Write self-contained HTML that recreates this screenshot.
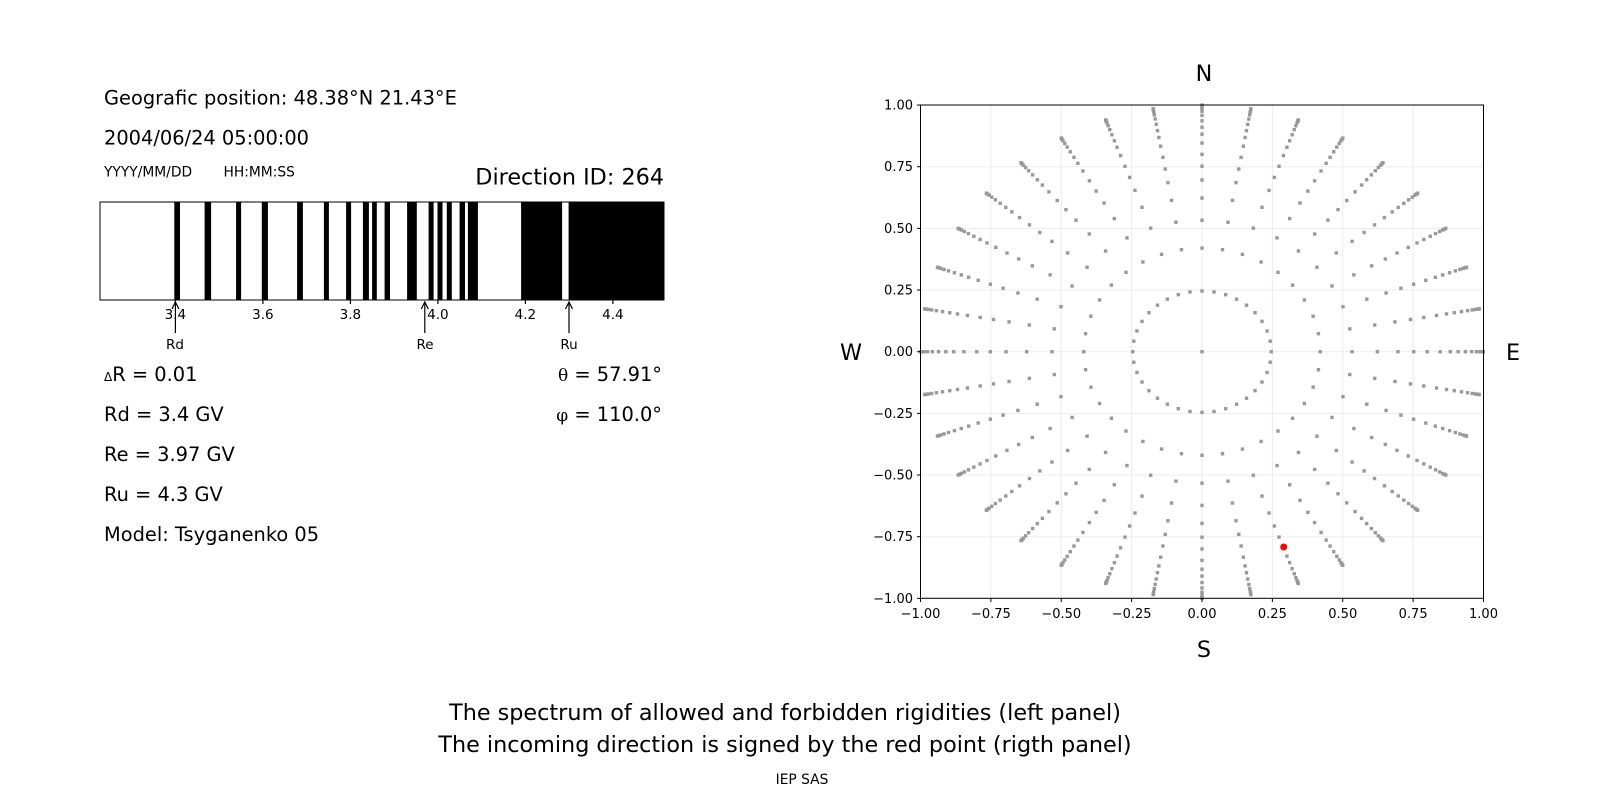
<!DOCTYPE html>
<html><head><meta charset="utf-8"><style>
html,body{margin:0;padding:0;background:#fff;}
svg text{font-family:"DejaVu Sans","Liberation Sans",sans-serif;fill:#000;}
</style></head><body>
<svg id="s" width="1600" height="800" viewBox="0 0 1600 800" xmlns="http://www.w3.org/2000/svg">
<rect width="1600" height="800" fill="#fff"/>
<g font-size="19.4">
<text x="104" y="104.5">Geografic position: 48.38°N 21.43°E</text>
<text x="104" y="144.5">2004/06/24 05:00:00</text>
<text x="104" y="381"><tspan font-size="12">Δ</tspan>R = 0.01</text>
<text x="104" y="421">Rd = 3.4 GV</text>
<text x="104" y="461">Re = 3.97 GV</text>
<text x="104" y="501">Ru = 4.3 GV</text>
<text x="104" y="541">Model: Tsyganenko 05</text>
<text x="662" y="381" text-anchor="end"><tspan font-family="DejaVu Serif,serif" font-size="17">θ</tspan> = 57.91°</text>
<text x="662" y="421" text-anchor="end"><tspan font-family="DejaVu Serif,serif" font-size="17">φ</tspan> = 110.0°</text>
</g>
<text x="104" y="176.5" font-size="13.8">YYYY/MM/DD</text>
<text x="223.5" y="176.5" font-size="13.8">HH:MM:SS</text>
<text x="664" y="184.5" font-size="22.3" text-anchor="end">Direction ID: 264</text>
<g id="bar"></g>
<rect x="100" y="202" width="564" height="98" fill="none" stroke="#000" stroke-width="1"/>
<g font-size="13.5" text-anchor="middle" id="bt"></g>
<g id="arr" stroke="#000" stroke-width="1.2" fill="none"></g>
<g font-size="13.5" text-anchor="middle">
<text x="175" y="349">Rd</text><text x="425" y="349">Re</text><text x="569" y="349">Ru</text>
</g>
<g id="grid" stroke="#ebebeb" stroke-width="1"></g>
<g id="dots" fill="#999"></g>
<rect x="1280.2" y="543.5" width="7" height="7" rx="3.5" fill="#f00"/>
<rect x="920.5" y="105" width="563" height="493.3" fill="none" stroke="#000" stroke-width="1"/>
<g id="ticks" font-size="13"></g>
<g font-size="22.3" text-anchor="middle">
<text x="1204" y="81">N</text><text x="1204" y="657">S</text>
<text x="851" y="360">W</text><text x="1513" y="360">E</text>
<text x="785" y="720">The spectrum of allowed and forbidden rigidities (left panel)</text>
<text x="785" y="752">The incoming direction is signed by the red point (rigth panel)</text>
</g>
<text x="802" y="784" font-size="13.8" text-anchor="middle">IEP SAS</text>
</svg>
<script>
var NS="http://www.w3.org/2000/svg";
function el(p,t,a,txt){var e=document.createElementNS(NS,t);for(var k in a)e.setAttribute(k,a[k]);if(txt!=null)e.textContent=txt;document.getElementById(p).appendChild(e);return e;}
var st=[[174.3,180],[204.6,211.1],[236.1,241.1],[261.8,267.9],[297.1,302.9],[323.9,328.9],[346.1,351.1],[362.9,368.9],[372.1,376.8],[384.6,390],[407.1,416.8],[428.6,433.6],[437.5,442.5],[446.8,451.8],[459.6,465],[467.9,477.9],[521.1,562.1],[568.6,664]];
st.forEach(function(s){el("bar","rect",{x:s[0],y:202,width:s[1]-s[0],height:98,fill:"#000"});});
var tv=["3.4","3.6","3.8","4.0","4.2","4.4"];
tv.forEach(function(t,i){var x=175.4+i*87.5;el("arr","line",{x1:x,y1:300,x2:x,y2:304});el("bt","text",{x:x,y:319},t);});
[175.4,424.8,569].forEach(function(x){el("arr","line",{x1:x,y1:333,x2:x,y2:302});el("arr","path",{d:"M"+(x-3.5)+" 309 L"+x+" 302 L"+(x+3.5)+" 309"});});
var cx=1202,cy=351.7,sx=281.5,sy=246.65;
var lab=["−1.00","−0.75","−0.50","−0.25","0.00","0.25","0.50","0.75","1.00"];
for(var i=0;i<9;i++){var v=-1+i*0.25;var X=cx+v*sx,Y=cy-v*sy;
el("grid","line",{x1:X,y1:105,x2:X,y2:598.3});el("grid","line",{x1:920.5,y1:Y,x2:1483.5,y2:Y});
el("ticks","line",{x1:X,y1:598.3,x2:X,y2:602,stroke:"#000"});el("ticks","line",{x1:917,y1:Y,x2:920.5,y2:Y,stroke:"#000"});
el("ticks","text",{x:X,y:618,"text-anchor":"middle"},lab[i]);el("ticks","text",{x:913,y:Y+4.5,"text-anchor":"end"},lab[i]);}
var rs=[0.246,0.42,0.533,0.623,0.696,0.752,0.80,0.846,0.882,0.91,0.936,0.958,0.975,0.987,0.994,0.998,1.0];
el("dots","rect",{x:cx-1.7,y:cy-1.7,width:3.4,height:3.4});
for(var a=0;a<36;a++){var t=a*10*Math.PI/180;rs.forEach(function(r){var X=cx+r*Math.sin(t)*sx,Y=cy-r*Math.cos(t)*sy;el("dots","rect",{x:X-1.7,y:Y-1.7,width:3.4,height:3.4});});}
</script>
</body></html>
